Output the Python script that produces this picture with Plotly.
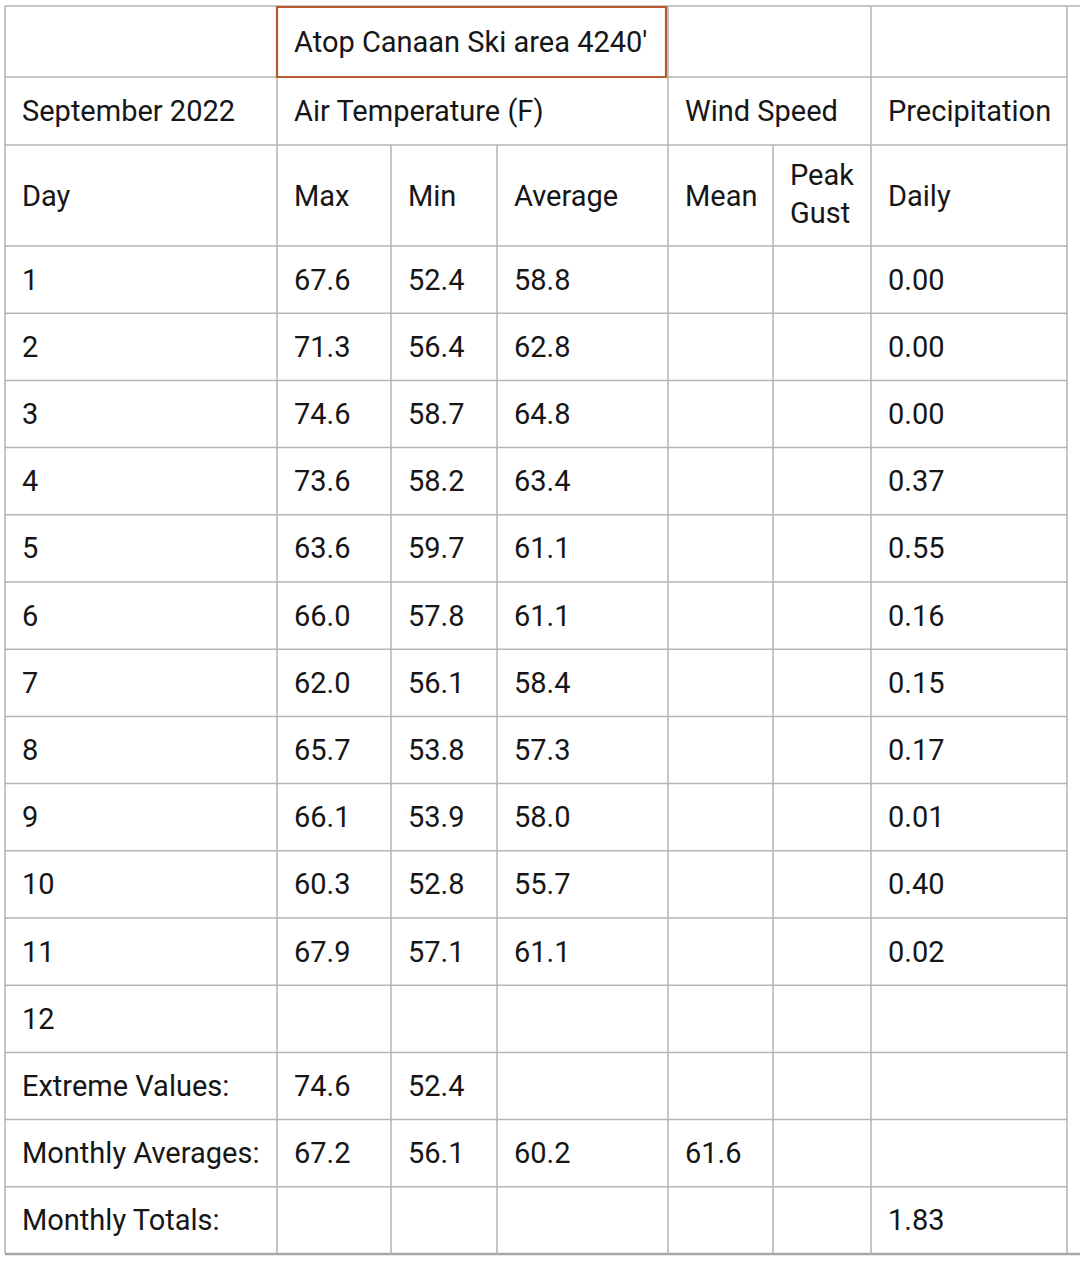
import plotly.graph_objects as go

# ---------------- data ----------------
title_text = "Atop Canaan Ski area 4240'"
month_label = "September 2022"
group_labels = ["Air Temperature (F)", "Wind Speed", "Precipitation"]
sub_labels = ["Day", "Max", "Min", "Average", "Mean", "Peak<br>Gust", "Daily"]

days = [1, 2, 3, 4, 5, 6, 7, 8, 9, 10, 11, 12]
temp_max = [67.6, 71.3, 74.6, 73.6, 63.6, 66.0, 62.0, 65.7, 66.1, 60.3, 67.9, None]
temp_min = [52.4, 56.4, 58.7, 58.2, 59.7, 57.8, 56.1, 53.8, 53.9, 52.8, 57.1, None]
temp_avg = [58.8, 62.8, 64.8, 63.4, 61.1, 61.1, 58.4, 57.3, 58.0, 55.7, 61.1, None]
wind_mean = [None] * 12
wind_gust = [None] * 12
precip = [0.00, 0.00, 0.00, 0.37, 0.55, 0.16, 0.15, 0.17, 0.01, 0.40, 0.02, None]

summary_labels = ["Extreme Values:", "Monthly Averages:", "Monthly Totals:"]
summary_max = [74.6, 67.2, None]
summary_min = [52.4, 56.1, None]
summary_avg = [None, 60.2, None]
summary_wind_mean = [None, 61.6, None]
summary_wind_gust = [None, None, None]
summary_precip = [None, None, 1.83]

# ---------------- layout geometry ----------------
W, H = 1080, 1264
col_edges = [5, 277, 391, 497, 668, 773, 871, 1067]
head_edges = [6, 77, 145, 246]
n_body = len(days) + len(summary_labels)
body_h = (1254 - 246) / n_body
row_edges = head_edges + [246 + body_h * (k + 1) for k in range(n_body)]
pad = 15
FONT = "Roboto"
FS = 29
TXT = "#161616"
LINE = "#b3b3b3"

def fmt(v, d):
    return "" if v is None else f"{v:.{d}f}"

annotations = []

def cell(text, col, r0, dy=0):
    if text == "" or text is None:
        return
    yc = (row_edges[r0] + row_edges[r0 + 1]) / 2 + dy
    annotations.append(dict(
        x=col_edges[col] + pad, y=yc, xref="x", yref="y", text=str(text),
        showarrow=False, xanchor="left", yanchor="middle", align="left",
        font=dict(family=FONT, size=FS, color=TXT),
    ))

# header rows
cell(title_text, 1, 0)
cell(month_label, 0, 1)
cell(group_labels[0], 1, 1)
cell(group_labels[1], 4, 1)
cell(group_labels[2], 6, 1)
for i, lab in enumerate(sub_labels):
    cell(lab, i, 2, dy=(-2 if "<br>" in lab else 0))

# body rows
for k, d in enumerate(days):
    r = 3 + k
    vals = [str(d), fmt(temp_max[k], 1), fmt(temp_min[k], 1), fmt(temp_avg[k], 1),
            fmt(wind_mean[k], 1), fmt(wind_gust[k], 1), fmt(precip[k], 2)]
    for c, v in enumerate(vals):
        cell(v, c, r)

for k, lab in enumerate(summary_labels):
    r = 3 + len(days) + k
    vals = [lab, fmt(summary_max[k], 1), fmt(summary_min[k], 1), fmt(summary_avg[k], 1),
            fmt(summary_wind_mean[k], 1), fmt(summary_wind_gust[k], 1), fmt(summary_precip[k], 2)]
    for c, v in enumerate(vals):
        cell(v, c, r)

# grid lines
shapes = []
def hline(y, x0, x1, w=1.5, color=LINE):
    shapes.append(dict(type="line", xref="x", yref="y", x0=x0, x1=x1, y0=y, y1=y,
                       line=dict(color=color, width=w)))
def vline(x, y0, y1, w=1.5, color=LINE):
    shapes.append(dict(type="line", xref="x", yref="y", x0=x, x1=x, y0=y0, y1=y1,
                       line=dict(color=color, width=w)))

top, bottom = row_edges[0], row_edges[-1]
hline(top, col_edges[0], W)
for y in row_edges[1:-1]:
    hline(y, col_edges[0], col_edges[-1])
hline(bottom, col_edges[0], W, w=2.5, color="#a6a6a6")
for i, x in enumerate(col_edges):
    if i in (2, 3, 5):
        vline(x, row_edges[2], bottom)
    else:
        vline(x, top, bottom)

# highlighted title cell
shapes.append(dict(type="rect", xref="x", yref="y",
                   x0=col_edges[1], x1=col_edges[4] - 2, y0=row_edges[0] + 1, y1=row_edges[1],
                   line=dict(color="#b9592d", width=2.2), fillcolor="rgba(0,0,0,0)"))

fig = go.Figure()
fig.add_trace(go.Scatter(x=[0, W], y=[0, H], mode="markers",
                         marker=dict(opacity=0), hoverinfo="skip", showlegend=False))
fig.update_layout(
    width=W, height=H, margin=dict(l=0, r=0, t=0, b=0),
    paper_bgcolor="white", plot_bgcolor="white",
    xaxis=dict(range=[0, W], visible=False, fixedrange=True),
    yaxis=dict(range=[H, 0], visible=False, fixedrange=True),
    annotations=annotations, shapes=shapes, showlegend=False,
)
fig.write_html("out.html", config={"displayModeBar": False},
               post_script="document.body.style.margin='0';document.body.style.overflow='hidden';")
